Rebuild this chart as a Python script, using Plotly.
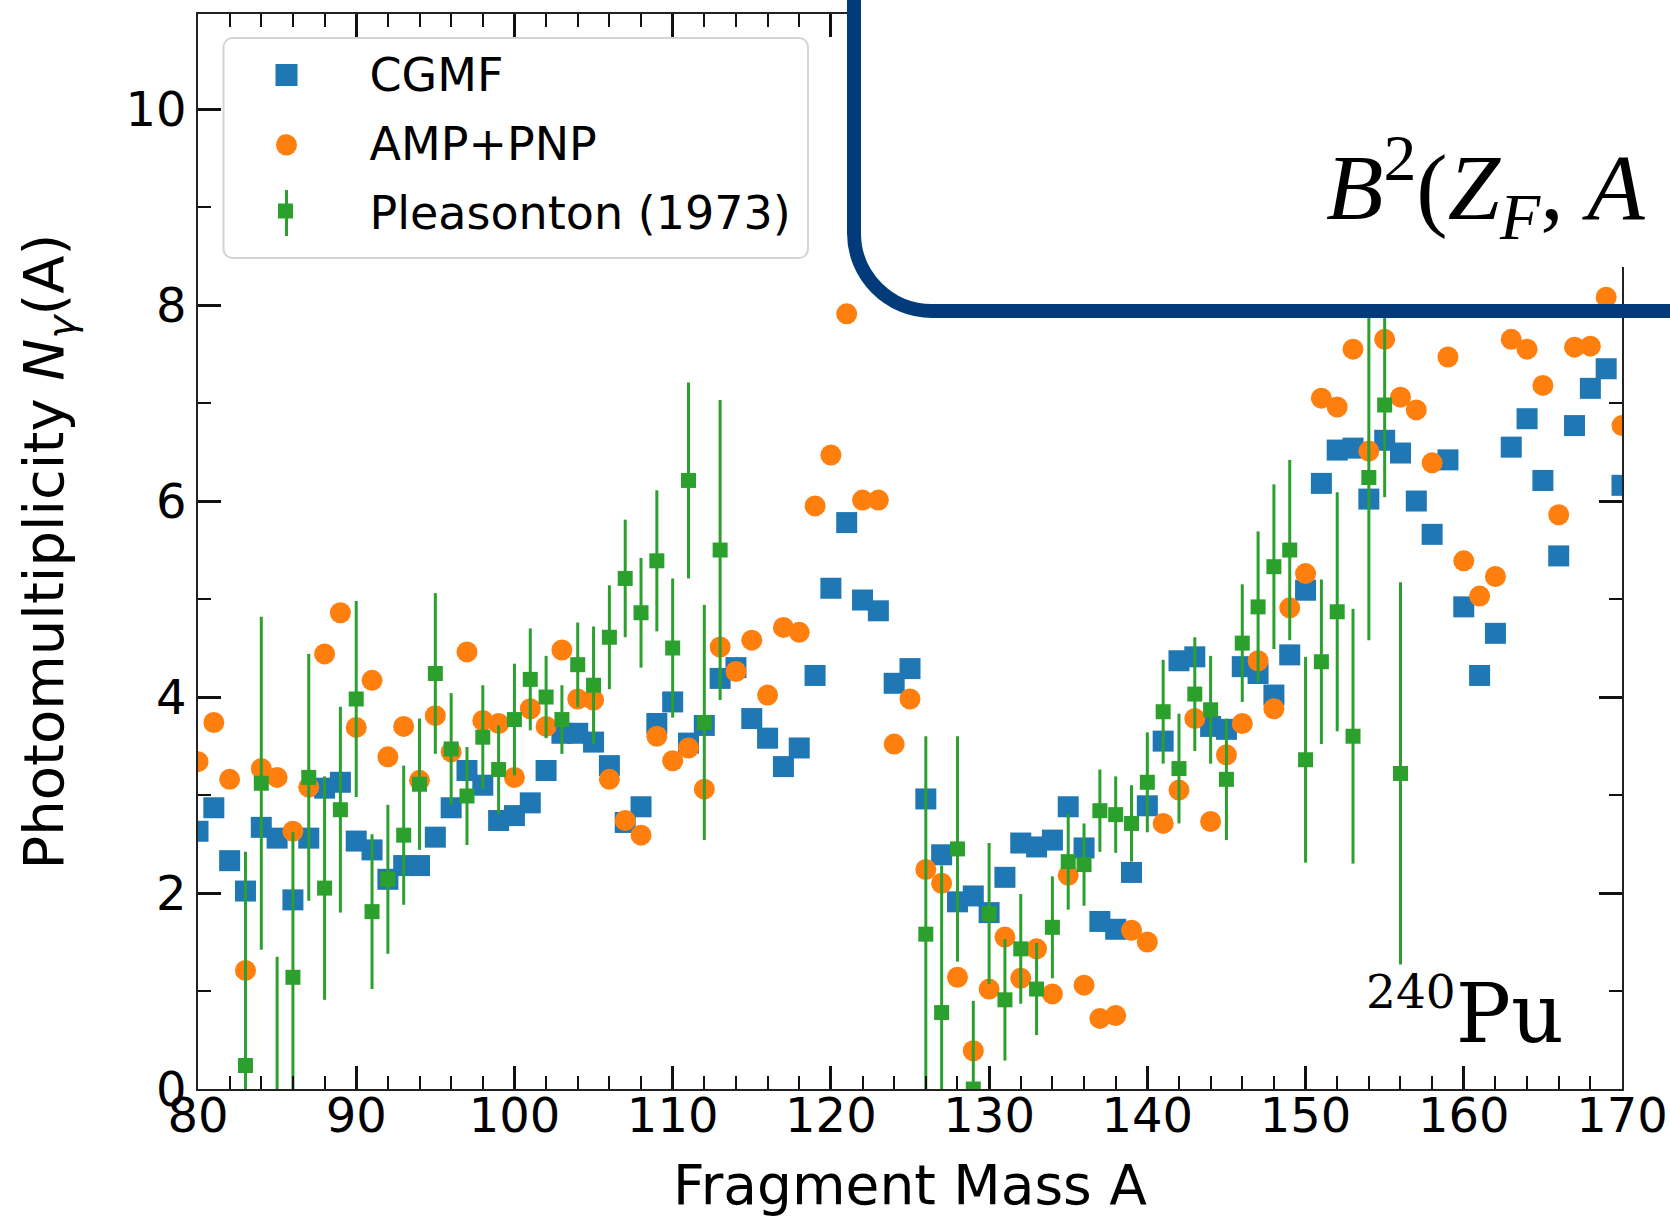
import plotly.graph_objects as go

# ---------------- data ----------------
A_cgmf = list(range(80, 171))
cgmf = [2.63, 2.87, 2.33, 2.02, 2.67, 2.56, 1.93, 2.56, 3.07, 3.13,
        2.53, 2.44, 2.14, 2.28, 2.28, 2.57, 2.87, 3.25, 3.10, 2.74,
        2.79, 2.92, 3.25, 3.63, 3.63, 3.54, 3.30, 2.72, 2.88, 3.73,
        3.95, 3.53, 3.71, 4.19, 4.30, 3.78, 3.58, 3.29, 3.48, 4.22,
        5.11, 5.78, 4.99, 4.88, 4.14, 4.29, 2.96, 2.39, 1.91, 1.97,
        1.80, 2.16, 2.51, 2.47, 2.54, 2.88, 2.46, 1.71, 1.63, 2.21,
        2.89, 3.55, 4.37, 4.41, 3.70, 3.67, 4.31, 4.24, 4.02, 4.43,
        5.09, 6.18, 6.52, 6.54, 6.02, 6.62, 6.49, 6.00, 5.66, 6.42,
        4.92, 4.22, 4.65, 6.55, 6.84, 6.21, 5.44, 6.77, 7.15, 7.35, 6.16]

A_amp = list(range(80, 171))
amp = [3.34, 3.74, 3.16, 1.21, 3.27, 3.18, 2.63, 3.08, 4.44, 4.86,
       3.69, 4.17, 3.39, 3.70, 3.15, 3.81, 3.44, 4.46, 3.76, 3.73,
       3.18, 3.88, 3.70, 4.48, 3.98, 3.97, 3.16, 2.74, 2.59, 3.60,
       3.35, 3.48, 3.06, 4.51, 4.26, 4.58, 4.02, 4.71, 4.66, 5.95,
       6.47, 7.91, 6.01, 6.01, 3.52, 3.98, 2.24, 2.10, 1.14, 0.39,
       1.02, 1.55, 1.13, 1.43, 0.97, 2.18, 1.06, 0.72, 0.75, 1.62,
       1.50, 2.71, 3.05, 3.78, 2.73, 3.41, 3.73, 4.37, 3.88, 4.91,
       5.26, 7.05, 6.96, 7.55, 6.51, 7.65, 7.06, 6.93, 6.39, 7.47,
       5.39, 5.03, 5.23, 7.65, 7.55, 7.18, 5.86, 7.57, 7.58, 8.08, 6.77]

A_exp = [83, 84, 85, 86, 87, 88, 89, 90, 91, 92, 93, 94, 95, 96, 97, 98, 99,
         100, 101, 102, 103, 104, 105, 106, 107, 108, 109, 110, 111, 112, 113,
         126, 127, 128, 129, 130, 131, 132, 133, 134, 135, 136, 137, 138, 139,
         140, 141, 142, 143, 144, 145, 146, 147, 148, 149, 150, 151, 152, 153,
         154, 155, 156]
exp_val = [0.24, 3.12, -0.35, 1.14, 3.18, 2.05, 2.85, 3.98, 1.81, 2.14, 2.59,
           3.11, 4.24, 3.47, 2.99, 3.59, 3.26, 3.77, 4.18, 4.00, 3.77, 4.33,
           4.12, 4.61, 5.21, 4.86, 5.39, 4.50, 6.21, 3.74, 5.50,
           1.58, 0.78, 2.45, 0.00, 1.79, 0.91, 1.43, 1.02, 1.65, 2.32, 2.29,
           2.84, 2.80, 2.71, 3.13, 3.85, 3.27, 4.03, 3.87, 3.16, 4.55, 4.92,
           5.33, 5.50, 3.36, 4.36, 4.87, 3.60, 6.24, 6.98, 3.22]
exp_err = [2.18, 1.70, 1.70, 1.48, 1.26, 1.14, 1.05, 1.00, 0.79, 0.76, 0.71,
           0.67, 0.82, 0.57, 0.50, 0.53, 0.45, 0.57, 0.52, 0.42, 0.35, 0.43,
           0.60, 0.53, 0.60, 0.56, 0.72, 0.71, 1.00, 1.20, 1.53,
           2.02, 1.50, 1.15, 0.90, 0.72, 0.62, 0.56, 0.47, 0.52, 0.49, 0.42,
           0.42, 0.39, 0.39, 0.51, 0.53, 0.56, 0.58, 0.55, 0.62, 0.60, 0.77,
           0.84, 0.92, 1.05, 0.84, 1.22, 1.30, 1.66, 0.94, 1.95]

x_range = [80, 170]
y_range = [0, 10.97]

C_CGMF, C_AMP, C_EXP = "#1f77b4", "#ff7f0e", "#2ca02c"

# ---------------- geometry helpers (pixel -> paper) ----------------
ML, MR, MT, MB = 198, 48, 14, 128
FW, FH = 1670, 1217
PW, PH = FW - ML - MR, FH - MT - MB


def px(X):
    return (X - ML) / PW


def py(Y):
    return (MT + PH - Y) / PH


def path(cmds):
    out = []
    for c in cmds:
        if isinstance(c, str):
            out.append(c)
        else:
            out.append(f"{px(c[0]):.5f},{py(c[1]):.5f}")
    return " ".join(out)


def rounded_rect(x0, y0, x1, y1, r):
    k = 0.5523 * r
    return path(["M", (x0 + r, y0), "L", (x1 - r, y0),
                 "C", (x1 - r + k, y0), (x1, y0 + r - k), (x1, y0 + r),
                 "L", (x1, y1 - r),
                 "C", (x1, y1 - r + k), (x1 - r + k, y1), (x1 - r, y1),
                 "L", (x0 + r, y1),
                 "C", (x0 + r - k, y1), (x0, y1 - r + k), (x0, y1 - r),
                 "L", (x0, y0 + r),
                 "C", (x0, y0 + r - k), (x0 + r - k, y0), (x0 + r, y0), "Z"])


# ---------------- figure ----------------
fig = go.Figure()
fig.add_trace(go.Scatter(
    x=A_cgmf, y=cgmf, mode="markers", name="CGMF", legendgroup="g1",
    marker=dict(symbol="square", size=21, color=C_CGMF, line=dict(width=0))))
fig.add_trace(go.Scatter(
    x=A_amp, y=amp, mode="markers", name="AMP+PNP", legendgroup="g2",
    marker=dict(symbol="circle", size=21, color=C_AMP, line=dict(width=0))))
fig.add_trace(go.Scatter(
    x=A_exp, y=exp_val, mode="markers", name="Pleasonton (1973)", legendgroup="g3",
    marker=dict(symbol="square", size=15, color=C_EXP, line=dict(width=0)),
    error_y=dict(type="data", array=exp_err, visible=True, thickness=3,
                 width=0, color=C_EXP)))

tick_font = dict(family="DejaVu Sans", size=48, color="black")
axis_common = dict(
    ticks="inside", ticklen=23, tickwidth=2.5, tickcolor="#111",
    showline=True, linewidth=1.5, linecolor="#222", mirror="allticks",
    showgrid=False, zeroline=False, tickfont=tick_font, automargin=False,
)

fig.update_xaxes(
    range=x_range, dtick=10, tick0=80, ticklabelstandoff=-16,
    minor=dict(dtick=2, tick0=80, ticks="inside", ticklen=13, tickwidth=2,
               tickcolor="#111"),
    title=dict(text="Fragment Mass A", font=dict(family="DejaVu Sans", size=55,
                                                  color="black"), standoff=34),
    **axis_common)
fig.update_yaxes(
    range=y_range, dtick=2, tick0=0,
    minor=dict(dtick=1, tick0=0, ticks="inside", ticklen=13, tickwidth=2,
               tickcolor="#111"),
    title=dict(text="Photomultiplicity <i>N</i><sub><i>γ</i></sub>(A)",
               font=dict(family="DejaVu Sans", size=56, color="black"),
               standoff=44),
    **axis_common)

# ---- legend frame (rounded, like matplotlib) and enlarged legend symbols ----
LEG_X = 286.5
ROW_Y = [75, 145, 213]
fig.add_shape(type="path", xref="paper", yref="paper",
              path=rounded_rect(223.5, 38, 808, 258, 9),
              fillcolor="white", line=dict(color="#d4d4d4", width=2), layer="above")
fig.add_shape(type="rect", xref="paper", yref="paper",
              x0=px(LEG_X - 11), x1=px(LEG_X + 11),
              y0=py(ROW_Y[0] - 11), y1=py(ROW_Y[0] + 11),
              fillcolor=C_CGMF, line=dict(width=0), layer="above")
fig.add_shape(type="circle", xref="paper", yref="paper",
              x0=px(LEG_X - 10.5), x1=px(LEG_X + 10.5),
              y0=py(ROW_Y[1] - 10.5), y1=py(ROW_Y[1] + 10.5),
              fillcolor=C_AMP, line=dict(width=0), layer="above")
fig.add_shape(type="line", xref="paper", yref="paper",
              x0=px(LEG_X), x1=px(LEG_X), y0=py(ROW_Y[2] - 23), y1=py(ROW_Y[2] + 23),
              line=dict(color=C_EXP, width=3), layer="above")

# ---- rounded overlay box (white interior + navy border) ----
r = 78
k = 0.5523 * r
BX, BY = 854, 311
fill_d = path(["M", (BX, -10), "L", (BX, BY - r), "C", (BX, BY - r + k),
               (BX + r - k, BY), (BX + r, BY), "L", (1580, BY), "L", (1580, 267),
               "L", (1690, 267), "L", (1690, -10), "Z"])
line_d = path(["M", (BX, -20), "L", (BX, BY - r), "C", (BX, BY - r + k),
               (BX + r - k, BY), (BX + r, BY), "L", (1700, BY)])

fig.add_shape(type="path", xref="paper", yref="paper", path=fill_d,
              fillcolor="white", line=dict(width=0), layer="above")
fig.add_shape(type="path", xref="paper", yref="paper", path=line_d,
              fillcolor="rgba(0,0,0,0)", line=dict(color="#033b7a", width=14),
              layer="above")

fig.add_annotation(
    text="<i>B</i><sup>2</sup>(<i>Z</i><sub><i>F</i></sub>, <i>A</i>",
    xref="paper", yref="paper", x=px(1324), y=py(187), xanchor="left",
    yanchor="middle", showarrow=False,
    font=dict(family="Liberation Serif", size=94, color="black"))

fig.add_annotation(
    text="<sup><span style='font-size:47px'>240</span></sup>Pu",
    xref="paper", yref="paper",
    x=px(1566), y=py(1063), xanchor="right", yanchor="bottom", showarrow=False,
    font=dict(family="DejaVu Serif", size=82, color="black"))

fig.update_layout(
    template="none",
    width=FW, height=FH,
    margin=dict(l=ML, r=MR, t=MT, b=MB, pad=0, autoexpand=False),
    paper_bgcolor="white", plot_bgcolor="white",
    font=dict(family="DejaVu Sans", color="black"),
    showlegend=True,
    legend=dict(x=px(201.5), y=py(37), xanchor="left", yanchor="top",
                bgcolor="rgba(0,0,0,0)", borderwidth=0,
                font=dict(family="DejaVu Sans", size=46, color="black"),
                tracegroupgap=6, itemwidth=158, traceorder="grouped"),
)

fig.write_html("out.html")
